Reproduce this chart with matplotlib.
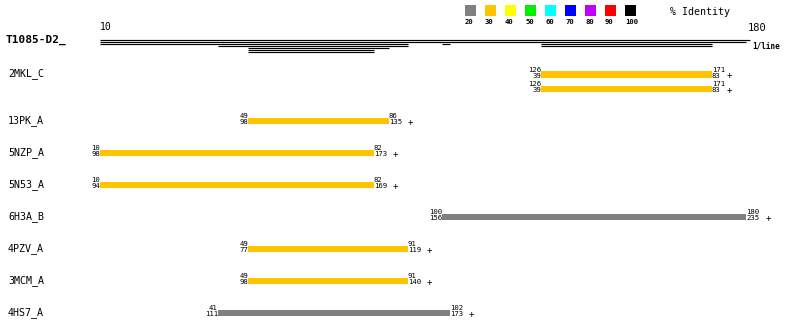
import matplotlib
matplotlib.use("Agg")
import matplotlib.pyplot as plt
import numpy as np

# query / hits
query_name = "T1085-D2_"
q_start, q_end = 10, 180

hit_names = ["2MKL_C", "2MKL_C", "13PK_A", "5NZP_A", "5N53_A", "6H3A_B", "4PZV_A", "3MCM_A", "4HS7_A"]
q_from = [126, 126, 49, 10, 10, 100, 49, 49, 41]
q_to = [171, 171, 86, 82, 82, 180, 91, 91, 102]
t_from = [39, 39, 98, 98, 94, 156, 77, 98, 111]
t_to = [83, 83, 135, 173, 169, 235, 119, 140, 173]
ident = [30, 30, 30, 30, 30, 20, 30, 30, 20]

legend_vals = [20, 30, 40, 50, 60, 70, 80, 90, 100]
legend_cols = ["#808080", "#FFC400", "#FFFF00", "#00EE00", "#00FFFF",
               "#0000FF", "#C000FF", "#FF0000", "#000000"]
col_of = dict(zip(legend_vals, legend_cols))

# row y positions (pixels from top)
row_y = [74.5, 89, 121, 153, 185, 217, 249, 281, 313]
name_y = [74, None, 121, 153, 185, 217, 249, 281, 313]

W, H = 800, 330
px0, px1 = 100, 746  # pixel x of q_start / q_end
scale = (px1 - px0) / (q_end - q_start)

fig = plt.figure(figsize=(W / 100, H / 100), dpi=100, facecolor="white")
ax = fig.add_axes([0, 0, 1, 1])
ax.set_xlim(q_start - px0 / scale, q_start + (W - px0) / scale)
ax.set_ylim(H, 0)
ax.axis("off")

lay = fig.add_axes([0, 0, 1, 1], facecolor="none")
lay.set_xlim(0, W)
lay.set_ylim(H, 0)
lay.axis("off")

mono = "DejaVu Sans Mono"

# coverage lines
cov_y0, cov_dy = 40, 2
ax.hlines(cov_y0, q_start, q_end + 1, color="black", lw=0.85)
edges = sorted(set(q_from + q_to + [q_start, q_end]))
depth = []
for a, b in zip(edges[:-1], edges[1:]):
    m = 0.5 * (a + b)
    depth.append(sum(1 for s, e in zip(q_from, q_to) if s <= m <= e))
depth = np.array(depth)
for k in range(1, depth.max() + 1):
    seg_start = None
    for i, (a, b) in enumerate(zip(edges[:-1], edges[1:])):
        if depth[i] >= k and seg_start is None:
            seg_start = a
        if depth[i] < k and seg_start is not None:
            ax.hlines(cov_y0 + k * cov_dy, seg_start, a, color="black", lw=0.85)
            seg_start = None
    if seg_start is not None:
        ax.hlines(cov_y0 + k * cov_dy, seg_start, edges[-1], color="black", lw=0.85)

# hit bars
for i in range(len(hit_names)):
    y = row_y[i]
    ax.barh(y, q_to[i] - q_from[i], left=q_from[i], height=6.3,
            color=col_of[ident[i]], linewidth=0)
    ax.text(q_from[i], y - 4.6, str(q_from[i]), ha="right", va="center",
            fontsize=5.2, family=mono)
    ax.text(q_from[i], y + 1.4, str(t_from[i]), ha="right", va="center",
            fontsize=5.2, family=mono)
    ax.text(q_to[i], y - 4.6, str(q_to[i]), ha="left", va="center",
            fontsize=5.2, family=mono)
    ax.text(q_to[i], y + 1.4, str(t_to[i]), ha="left", va="center",
            fontsize=5.2, family=mono)
    ax.annotate("+", (q_to[i], y + 1.5), xytext=(len(str(t_to[i])) * 4.4 + 6, 0),
                textcoords="offset pixels", ha="left", va="center",
                fontsize=6.5, family=mono)
    if name_y[i] is not None:
        lay.text(8, name_y[i], hit_names[i], ha="left", va="center",
                 fontsize=7.2, family=mono)

# header texts
lay.text(5, 40, query_name, ha="left", va="center", fontsize=8,
         family=mono, fontweight="bold")
ax.text(q_start, 27, str(q_start), ha="left", va="center", fontsize=7, family=mono)
ax.text(q_end + 0.5, 28, str(q_end), ha="left", va="center", fontsize=7.5, family=mono)
ax.text(q_end + 1.6, 46, "1/line", ha="left", va="center", fontsize=5.5,
        family=mono, fontweight="bold")

# identity legend
for j, (v, c) in enumerate(zip(legend_vals, legend_cols)):
    x = 465 + 20 * j
    lay.add_patch(plt.Rectangle((x, 5), 11, 11, color=c, lw=0))
    lay.text(x, 21.5, str(v), ha="left", va="center", fontsize=5.2,
             family=mono, fontweight="bold")
lay.text(670, 12, "% Identity", ha="left", va="center", fontsize=7.2, family=mono)

fig.savefig("out.png", dpi=100, facecolor="white")
